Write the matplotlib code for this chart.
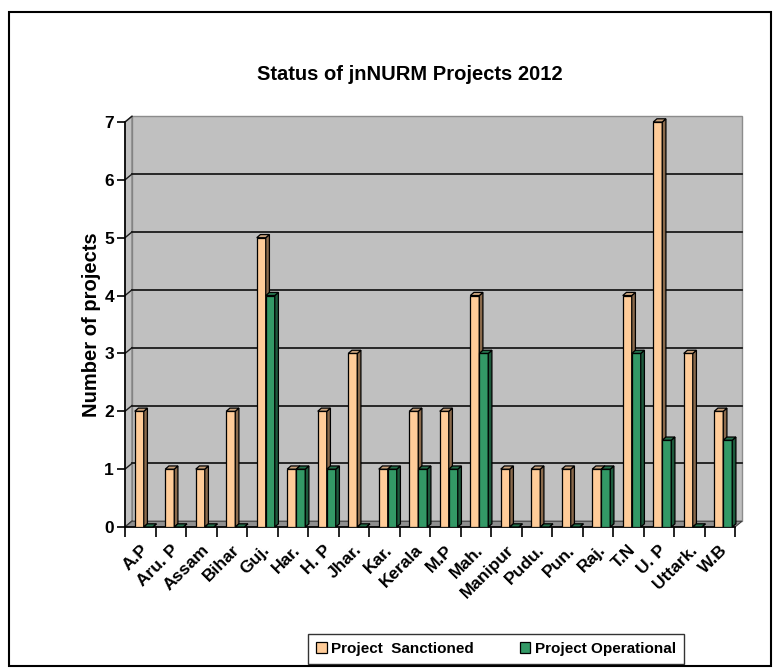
import matplotlib
matplotlib.use("Agg")
import matplotlib.pyplot as plt
from matplotlib.patches import Polygon, Rectangle, Patch

plt.rcParams['font.family'] = ['Liberation Sans', 'DejaVu Sans']

states = ['A.P', 'Aru. P', 'Assam', 'Bihar', 'Guj.', 'Har.', 'H. P', 'Jhar.',
          'Kar.', 'Kerala', 'M.P', 'Mah.', 'Manipur', 'Pudu.', 'Pun.', 'Raj.',
          'T.N', 'U. P', 'Uttark.', 'W.B']
sanctioned = [2, 1, 1, 2, 5, 1, 2, 3, 1, 2, 2, 4, 1, 1, 1, 1, 4, 7, 3, 2]
operational = [0, 0, 0, 0, 4, 1, 1, 0, 1, 1, 1, 3, 0, 0, 0, 1, 3, 1.5, 0, 1.5]

W, H = 780, 668
fig = plt.figure(figsize=(W / 100, H / 100), dpi=100)
ax = fig.add_axes([125 / W, (H - 527) / H, 610 / W, 405 / H])

n = len(states)
ymax = 7
# depth of the back wall, and of each column, in data units
wall_dx, wall_dy = 0.23, 0.10
bar_dx, bar_dy = 0.12, 0.055
bar_w = 0.295

# back wall, side wall and floor
ax.add_patch(Polygon([(wall_dx, wall_dy), (n + wall_dx, wall_dy),
                      (n + wall_dx, ymax + wall_dy), (wall_dx, ymax + wall_dy)],
                     closed=True, facecolor='#c0c0c0', edgecolor='#8c8c8c',
                     lw=1.0, zorder=1, clip_on=False))
ax.add_patch(Polygon([(0, 0), (wall_dx, wall_dy), (wall_dx, ymax + wall_dy), (0, ymax)],
                     closed=True, facecolor='#c0c0c0', edgecolor='#808080',
                     lw=1.0, zorder=1, clip_on=False))
for k in range(1, ymax):
    ax.plot([wall_dx, n + wall_dx], [k + wall_dy, k + wall_dy], color='#1a1a1a',
            lw=1.3, zorder=2, clip_on=False)
for k in range(0, ymax + 1):
    ax.plot([0, wall_dx], [k, k + wall_dy], color='#1a1a1a', lw=1.0,
            zorder=2, clip_on=False)
ax.add_patch(Polygon([(0, 0), (n, 0), (n + wall_dx, wall_dy), (wall_dx, wall_dy)],
                     closed=True, facecolor='#8f8f8f', edgecolor='#404040',
                     lw=0.8, zorder=2, clip_on=False))


def column(x, h, front, side, top, z):
    ax.bar(x, h, bar_w, align='edge', color=front, edgecolor='black',
           lw=0.9, zorder=z)
    ax.add_patch(Polygon([(x + bar_w, 0), (x + bar_w + bar_dx, bar_dy),
                          (x + bar_w + bar_dx, h + bar_dy), (x + bar_w, h)],
                         closed=True, facecolor=side, edgecolor='black',
                         lw=0.9, zorder=z, clip_on=False))
    ax.add_patch(Polygon([(x, h), (x + bar_dx, h + bar_dy),
                          (x + bar_w + bar_dx, h + bar_dy), (x + bar_w, h)],
                         closed=True, facecolor=top, edgecolor='black',
                         lw=0.9, zorder=z, clip_on=False))


z = 3
for i in range(n):
    left = i + 0.5 - 0.18
    column(left, sanctioned[i], '#ffcc99', '#8a6a4c', '#c9a27c', z)
    column(left + bar_w, operational[i], '#339966', '#1d5a3c', '#25704b', z + 1)
    z += 2

ax.set_xlim(0, n)
ax.set_ylim(0, ymax)
ax.set_yticks(range(0, ymax + 1))
ax.set_xticks(range(0, n + 1))
ax.set_xticklabels([])
ax.set_xticks([i + 0.5 for i in range(n)], minor=True)
ax.set_xticklabels(states, minor=True, rotation=45, ha='right', va='top',
                   rotation_mode='anchor', fontsize=12.5, fontweight='bold')
ax.tick_params(axis='x', which='minor', length=0, pad=11)
ax.tick_params(axis='x', which='major', length=7, width=1.2, direction='out')
ax.tick_params(axis='y', length=6, width=1.2, direction='out', pad=2,
               labelsize=12.5)
for lbl in ax.get_yticklabels():
    lbl.set_fontweight('bold')

for s in ['top', 'right']:
    ax.spines[s].set_visible(False)
ax.spines['left'].set_linewidth(1.2)
ax.spines['bottom'].set_linewidth(1.2)
ax.spines['left'].set_zorder(2.5)
ax.patch.set_visible(False)

ax.set_ylabel('Number of projects', fontsize=14.5, fontweight='bold', labelpad=2)

fig.text(410 / W, 1 - 75 / H, 'Status of jnNURM Projects 2012',
         ha='center', va='center', fontsize=14.5, fontweight='bold')

handles = [Patch(facecolor='#ffcc99', edgecolor='black', lw=0.9),
           Patch(facecolor='#339966', edgecolor='black', lw=0.9)]
leg = fig.legend(handles, ['Project  Sanctioned', 'Project Operational'],
                 loc='center', bbox_to_anchor=(496 / W, 1 - 649 / H), ncol=2,
                 frameon=True, fancybox=False, edgecolor='black',
                 prop={'weight': 'bold', 'size': 11}, handlelength=0.7,
                 handleheight=0.7, handletextpad=0.3, columnspacing=3.0,
                 borderpad=0.5)
leg.get_frame().set_linewidth(1.0)

fig.add_artist(Rectangle((9 / W, 2 / H), 762 / W, 654 / H, transform=fig.transFigure,
                         fill=False, edgecolor='black', lw=1.5))

fig.savefig('out.png', dpi=100)
